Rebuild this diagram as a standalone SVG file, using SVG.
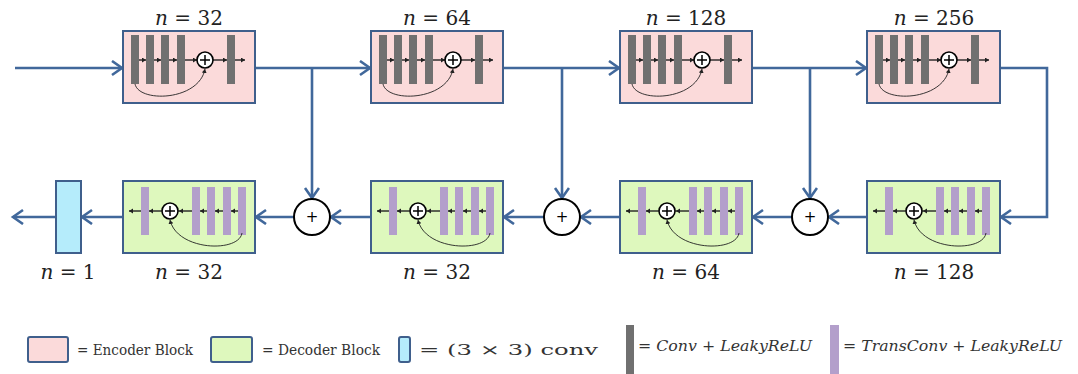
<svg xmlns="http://www.w3.org/2000/svg" width="1078" height="374" viewBox="0 0 1078 374">
<defs>
<style>
.enc{fill:#fbdada;stroke:#3f5f8c;stroke-width:2}
.dec{fill:#def8bd;stroke:#3f5f8c;stroke-width:2}
.out{fill:#b5ecfb;stroke:#3f5f8c;stroke-width:2}
.gbar{fill:#707070}
.pbar{fill:#b39fcb}
.il{stroke:#222;stroke-width:0.9;fill:none}
.ic{fill:#fff;stroke:#000;stroke-width:1.6}
.con{stroke:#41689b;stroke-width:2.6;fill:none}
.sum{fill:#fff;stroke:#000;stroke-width:2}
.lbl{font-family:"DejaVu Serif","Liberation Serif",serif;font-size:20px;fill:#222}
.pl{font-family:"DejaVu Sans",sans-serif;font-size:15px;fill:#000}
.leg{font-family:"DejaVu Serif","Liberation Serif",serif;font-size:15px;fill:#333}
.legi{font-family:"DejaVu Serif","Liberation Serif",serif;font-style:italic;font-size:15px;fill:#333}
</style>
<marker id="ah" markerUnits="userSpaceOnUse" markerWidth="14" markerHeight="18" refX="11" refY="8" orient="auto">
<path d="M1,1 L11,8 L1,15" fill="none" stroke="#41689b" stroke-width="2.6"/>
</marker>
<marker id="sa" markerUnits="userSpaceOnUse" markerWidth="6" markerHeight="6" refX="4" refY="2.5" orient="auto">
<path d="M0,0 L4,2.5 L0,5 Z" fill="#222"/>
</marker>
<g id="encInner">
<line class="il" x1="8" y1="29" x2="122" y2="29"/>
<line class="il" x1="16" y1="29" x2="23" y2="29" marker-end="url(#sa)"/>
<line class="il" x1="31" y1="29" x2="38" y2="29" marker-end="url(#sa)"/>
<line class="il" x1="46" y1="29" x2="54" y2="29" marker-end="url(#sa)"/>
<line class="il" x1="62" y1="29" x2="74" y2="29" marker-end="url(#sa)"/>
<line class="il" x1="90" y1="29" x2="104" y2="29" marker-end="url(#sa)"/>
<line class="il" x1="112" y1="29" x2="122" y2="29" marker-end="url(#sa)"/>
<rect class="gbar" x="8" y="4" width="8" height="49"/>
<rect class="gbar" x="23" y="4" width="8" height="49"/>
<rect class="gbar" x="38" y="4" width="8" height="49"/>
<rect class="gbar" x="54" y="4" width="8" height="49"/>
<rect class="gbar" x="104" y="4" width="8" height="49"/>
<path class="il" d="M12,53 C16,72 76,70 82,38" marker-end="url(#sa)" stroke-width="1.3"/>
<circle class="ic" cx="82" cy="29" r="8"/>
<path d="M77,29 H87 M82,24 V34" stroke="#000" stroke-width="1.5"/>
</g>
<g id="decInner">
<line class="il" x1="6" y1="30" x2="123" y2="30"/>
<line class="il" x1="18" y1="30" x2="6" y2="30" marker-end="url(#sa)"/>
<line class="il" x1="38" y1="30" x2="26" y2="30" marker-end="url(#sa)"/>
<line class="il" x1="69" y1="30" x2="56" y2="30" marker-end="url(#sa)"/>
<line class="il" x1="84" y1="30" x2="77" y2="30" marker-end="url(#sa)"/>
<line class="il" x1="100" y1="30" x2="92" y2="30" marker-end="url(#sa)"/>
<line class="il" x1="115" y1="30" x2="108" y2="30" marker-end="url(#sa)"/>
<rect class="pbar" x="18" y="6" width="8" height="48"/>
<rect class="pbar" x="69" y="6" width="8" height="48"/>
<rect class="pbar" x="84" y="6" width="8" height="48"/>
<rect class="pbar" x="100" y="6" width="8" height="48"/>
<rect class="pbar" x="115" y="6" width="8" height="48"/>
<path class="il" d="M119,52 C116,72 54,70 47,39" marker-end="url(#sa)" stroke-width="1.3"/>
<circle class="ic" cx="47" cy="30" r="8"/>
<path d="M42,30 H52 M47,25 V35" stroke="#000" stroke-width="1.5"/>
</g>
</defs>
<rect width="1078" height="374" fill="#fff"/>

<g id="connectors">
<line class="con" x1="15" y1="68" x2="122" y2="68" marker-end="url(#ah)"/>
<line class="con" x1="255" y1="68" x2="370" y2="68" marker-end="url(#ah)"/>
<line class="con" x1="503" y1="68" x2="619" y2="68" marker-end="url(#ah)"/>
<line class="con" x1="752" y1="68" x2="866" y2="68" marker-end="url(#ah)"/>
<path class="con" d="M1000,68 H1047 V217 H1001" marker-end="url(#ah)"/>
<line class="con" x1="312" y1="68" x2="312" y2="198" marker-end="url(#ah)"/>
<line class="con" x1="562" y1="68" x2="562" y2="198" marker-end="url(#ah)"/>
<line class="con" x1="810" y1="68" x2="810" y2="198" marker-end="url(#ah)"/>
<line class="con" x1="867" y1="217" x2="829" y2="217" marker-end="url(#ah)"/>
<line class="con" x1="792" y1="217" x2="753" y2="217" marker-end="url(#ah)"/>
<line class="con" x1="620" y1="217" x2="581" y2="217" marker-end="url(#ah)"/>
<line class="con" x1="544" y1="217" x2="504" y2="217" marker-end="url(#ah)"/>
<line class="con" x1="371" y1="217" x2="331" y2="217" marker-end="url(#ah)"/>
<line class="con" x1="294" y1="217" x2="256" y2="217" marker-end="url(#ah)"/>
<line class="con" x1="123" y1="217" x2="82" y2="217" marker-end="url(#ah)"/>
<line class="con" x1="56" y1="217" x2="13" y2="217" marker-end="url(#ah)"/>
</g>

<g id="enc1"><rect class="enc" x="123" y="31" width="132" height="72"/><use href="#encInner" x="123" y="31"/><text class="lbl" x="189" y="25" text-anchor="middle"><tspan font-style="italic">n</tspan> = 32</text></g>
<g id="enc2"><rect class="enc" x="371" y="31" width="132" height="72"/><use href="#encInner" x="371" y="31"/><text class="lbl" x="437" y="25" text-anchor="middle"><tspan font-style="italic">n</tspan> = 64</text></g>
<g id="enc3"><rect class="enc" x="620" y="31" width="132" height="72"/><use href="#encInner" x="620" y="31"/><text class="lbl" x="686" y="25" text-anchor="middle"><tspan font-style="italic">n</tspan> = 128</text></g>
<g id="enc4"><rect class="enc" x="867" y="31" width="133" height="72"/><use href="#encInner" x="867" y="31"/><text class="lbl" x="934" y="25" text-anchor="middle"><tspan font-style="italic">n</tspan> = 256</text></g>

<g id="dec1"><rect class="dec" x="123" y="181" width="132" height="72"/><use href="#decInner" x="123" y="181"/><text class="lbl" x="189" y="279" text-anchor="middle"><tspan font-style="italic">n</tspan> = 32</text></g>
<g id="dec2"><rect class="dec" x="371" y="181" width="132" height="72"/><use href="#decInner" x="371" y="181"/><text class="lbl" x="437" y="279" text-anchor="middle"><tspan font-style="italic">n</tspan> = 32</text></g>
<g id="dec3"><rect class="dec" x="620" y="181" width="132" height="72"/><use href="#decInner" x="620" y="181"/><text class="lbl" x="686" y="279" text-anchor="middle"><tspan font-style="italic">n</tspan> = 64</text></g>
<g id="dec4"><rect class="dec" x="867" y="181" width="133" height="72"/><use href="#decInner" x="867" y="181"/><text class="lbl" x="934" y="279" text-anchor="middle"><tspan font-style="italic">n</tspan> = 128</text></g>

<g id="sum1"><circle class="sum" cx="312" cy="217" r="18"/><text class="pl" x="312" y="222" text-anchor="middle">+</text></g>
<g id="sum2"><circle class="sum" cx="562" cy="217" r="18"/><text class="pl" x="562" y="222" text-anchor="middle">+</text></g>
<g id="sum3"><circle class="sum" cx="810" cy="217" r="18"/><text class="pl" x="810" y="222" text-anchor="middle">+</text></g>

<g id="outconv"><rect class="out" x="56" y="181" width="25" height="72"/><text class="lbl" x="68" y="279" text-anchor="middle"><tspan font-style="italic">n</tspan> = 1</text></g>

<g id="legend">
<rect class="enc" x="28" y="337" width="40" height="25" rx="2"/>
<text class="leg" x="77" y="355" textLength="116" lengthAdjust="spacingAndGlyphs">= Encoder Block</text>
<rect class="dec" x="211" y="337" width="41" height="25" rx="2"/>
<text class="leg" x="262" y="355" textLength="118" lengthAdjust="spacingAndGlyphs">= Decoder Block</text>
<rect class="out" x="399" y="337" width="11" height="25" rx="2"/>
<text class="leg" x="419" y="355" font-size="17" textLength="179" lengthAdjust="spacingAndGlyphs">= (3 × 3) conv</text>
<rect class="gbar" x="626" y="325" width="8" height="49"/>
<text class="legi" x="638" y="351" textLength="174" lengthAdjust="spacingAndGlyphs">= Conv + LeakyReLU</text>
<rect class="pbar" x="830" y="325" width="9" height="49"/>
<text class="legi" x="843" y="351" textLength="219" lengthAdjust="spacingAndGlyphs">= TransConv + LeakyReLU</text>
</g>
</svg>
